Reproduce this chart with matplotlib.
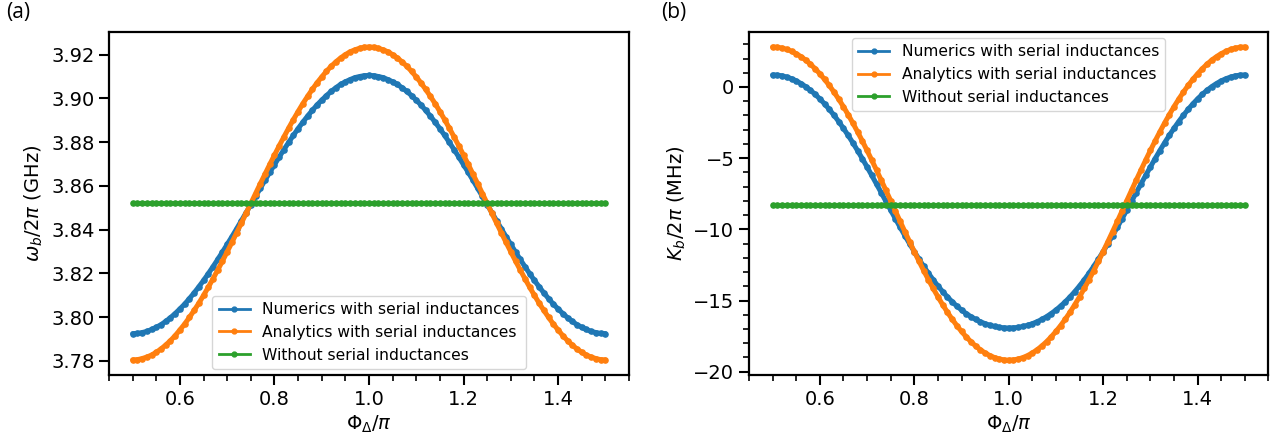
import matplotlib
matplotlib.use("Agg")
import matplotlib.pyplot as plt
from matplotlib.ticker import MultipleLocator, FormatStrFormatter
from matplotlib.lines import Line2D
import numpy as np

# flux bias Phi_Delta / pi
phi = np.linspace(0.5, 1.5, 101)

# (a) omega_b / 2pi in GHz
omega_num = [3.7925, 3.7926, 3.7930, 3.7935, 3.7944, 3.7954, 3.7966, 3.7981, 3.7998, 3.8017,
             3.8038, 3.8060, 3.8085, 3.8111, 3.8139, 3.8168, 3.8199, 3.8231, 3.8264, 3.8298,
             3.8333, 3.8368, 3.8404, 3.8441, 3.8478, 3.8515, 3.8552, 3.8589, 3.8626, 3.8662,
             3.8697, 3.8732, 3.8766, 3.8799, 3.8831, 3.8862, 3.8891, 3.8919, 3.8945, 3.8970,
             3.8992, 3.9013, 3.9032, 3.9049, 3.9064, 3.9076, 3.9086, 3.9095, 3.9100, 3.9104,
             3.9105,
             3.9104, 3.9100, 3.9095, 3.9086, 3.9076, 3.9064, 3.9049, 3.9032, 3.9013, 3.8992,
             3.8970, 3.8945, 3.8919, 3.8891, 3.8862, 3.8831, 3.8799, 3.8766, 3.8732, 3.8697,
             3.8662, 3.8626, 3.8589, 3.8552, 3.8515, 3.8478, 3.8441, 3.8404, 3.8368, 3.8333,
             3.8298, 3.8264, 3.8231, 3.8199, 3.8168, 3.8139, 3.8111, 3.8085, 3.8060, 3.8038,
             3.8017, 3.7998, 3.7981, 3.7966, 3.7954, 3.7944, 3.7935, 3.7930, 3.7926, 3.7925]
omega_ana = [3.7805, 3.7806, 3.7811, 3.7818, 3.7827, 3.7840, 3.7855, 3.7873, 3.7893, 3.7916,
             3.7942, 3.7969, 3.7999, 3.8031, 3.8064, 3.8100, 3.8137, 3.8176, 3.8216, 3.8257,
             3.8299, 3.8342, 3.8386, 3.8430, 3.8475, 3.8520, 3.8565, 3.8610, 3.8654, 3.8698,
             3.8741, 3.8783, 3.8824, 3.8864, 3.8903, 3.8940, 3.8976, 3.9009, 3.9041, 3.9071,
             3.9098, 3.9124, 3.9147, 3.9167, 3.9185, 3.9200, 3.9213, 3.9222, 3.9229, 3.9234,
             3.9235,
             3.9234, 3.9229, 3.9222, 3.9213, 3.9200, 3.9185, 3.9167, 3.9147, 3.9124, 3.9098,
             3.9071, 3.9041, 3.9009, 3.8976, 3.8940, 3.8903, 3.8864, 3.8824, 3.8783, 3.8741,
             3.8698, 3.8654, 3.8610, 3.8565, 3.8520, 3.8475, 3.8430, 3.8386, 3.8342, 3.8299,
             3.8257, 3.8216, 3.8176, 3.8137, 3.8100, 3.8064, 3.8031, 3.7999, 3.7969, 3.7942,
             3.7916, 3.7893, 3.7873, 3.7855, 3.7840, 3.7827, 3.7818, 3.7811, 3.7806, 3.7805]
omega_plain = [3.852] * 101

# (b) K_b / 2pi in MHz
kerr_num = [0.850, 0.833, 0.783, 0.699, 0.581, 0.430, 0.245, 0.026, -0.227, -0.513,
            -0.833, -1.185, -1.569, -1.984, -2.429, -2.902, -3.401, -3.925, -4.471, -5.035,
            -5.616, -6.210, -6.814, -7.423, -8.035, -8.646, -9.252, -9.850, -10.436, -11.007,
            -11.560, -12.092, -12.602, -13.086, -13.543, -13.971, -14.371, -14.740, -15.079, -15.388,
            -15.666, -15.915, -16.134, -16.326, -16.489, -16.626, -16.736, -16.822, -16.882, -16.918,
            -16.930,
            -16.918, -16.882, -16.822, -16.736, -16.626, -16.489, -16.326, -16.134, -15.915, -15.666,
            -15.388, -15.079, -14.740, -14.371, -13.971, -13.543, -13.086, -12.602, -12.092, -11.560,
            -11.007, -10.436, -9.850, -9.252, -8.646, -8.035, -7.423, -6.814, -6.210, -5.616,
            -5.035, -4.471, -3.925, -3.401, -2.902, -2.429, -1.984, -1.569, -1.185, -0.833,
            -0.513, -0.227, 0.026, 0.245, 0.430, 0.581, 0.699, 0.783, 0.833, 0.850]
kerr_ana = [2.810, 2.791, 2.735, 2.641, 2.509, 2.340, 2.133, 1.888, 1.606, 1.286,
            0.930, 0.537, 0.108, -0.357, -0.855, -1.385, -1.946, -2.537, -3.154, -3.795,
            -4.458, -5.140, -5.838, -6.548, -7.266, -7.990, -8.715, -9.439, -10.156, -10.865,
            -11.560, -12.239, -12.899, -13.536, -14.149, -14.733, -15.288, -15.811, -16.300, -16.754,
            -17.172, -17.552, -17.893, -18.196, -18.459, -18.682, -18.865, -19.007, -19.109, -19.170,
            -19.190,
            -19.170, -19.109, -19.007, -18.865, -18.682, -18.459, -18.196, -17.893, -17.552, -17.172,
            -16.754, -16.300, -15.811, -15.288, -14.733, -14.149, -13.536, -12.899, -12.239, -11.560,
            -10.865, -10.156, -9.439, -8.715, -7.990, -7.266, -6.548, -5.838, -5.140, -4.458,
            -3.795, -3.154, -2.537, -1.946, -1.385, -0.855, -0.357, 0.108, 0.537, 0.930,
            1.286, 1.606, 1.888, 2.133, 2.340, 2.509, 2.641, 2.735, 2.791, 2.810]
kerr_plain = [-8.28] * 101

labels = ["Numerics with serial inductances",
          "Analytics with serial inductances",
          "Without serial inductances"]
colors = ['#1f77b4', '#ff7f0e', '#2ca02c']

plt.rcParams['font.family'] = ['DejaVu Sans']

fig = plt.figure(figsize=(12.81, 4.43), dpi=100)
ax1 = fig.add_axes([0.0851, 0.1535, 0.4059, 0.7745])
ax2 = fig.add_axes([0.5847, 0.1535, 0.4055, 0.7745])


def draw(ax, series):
    for ys, c in zip(series, colors):
        # dense dots merge into a thick band
        ax.plot(phi, ys, '-', color=c, lw=3.6, solid_capstyle='round')
        ax.plot(phi, ys, '.', color=c, ms=7.5)
    ax.set_xlim(0.45, 1.55)
    ax.xaxis.set_major_locator(MultipleLocator(0.2))
    ax.xaxis.set_minor_locator(MultipleLocator(0.05))
    ax.tick_params(which='major', direction='out', length=7, width=1.5, labelsize=14)
    ax.tick_params(which='minor', direction='out', length=4, width=1.2)
    for s in ax.spines.values():
        s.set_linewidth(1.6)
    ax.set_xlabel(r'$\Phi_\Delta/\pi$', fontsize=14)


handles = [Line2D([], [], color=c, marker='.', lw=2, ms=7) for c in colors]

draw(ax1, [omega_num, omega_ana, omega_plain])
ax1.set_ylim(3.7736, 3.9304)
ax1.yaxis.set_major_locator(MultipleLocator(0.02))
ax1.yaxis.set_major_formatter(FormatStrFormatter('%.2f'))
ax1.set_ylabel(r'$\omega_b/2\pi$ (GHz)', fontsize=14)
ax1.legend(handles, labels, loc='lower center', fontsize=11.2, borderaxespad=0.4)

draw(ax2, [kerr_num, kerr_ana, kerr_plain])
ax2.set_ylim(-20.23, 3.87)
ax2.yaxis.set_major_locator(MultipleLocator(5))
ax2.yaxis.set_minor_locator(MultipleLocator(1))
ax2.set_ylabel(r'$K_b/2\pi$ (MHz)', fontsize=14)
ax2.legend(handles, labels, loc='upper center', fontsize=11.2, borderaxespad=0.4)

fig.text(0.005, 0.995, '(a)', fontsize=15, va='top', family=['Open Sans', 'DejaVu Sans'])
fig.text(0.516, 0.995, '(b)', fontsize=15, va='top', family=['Open Sans', 'DejaVu Sans'])

fig.savefig('out.png', dpi=100)
